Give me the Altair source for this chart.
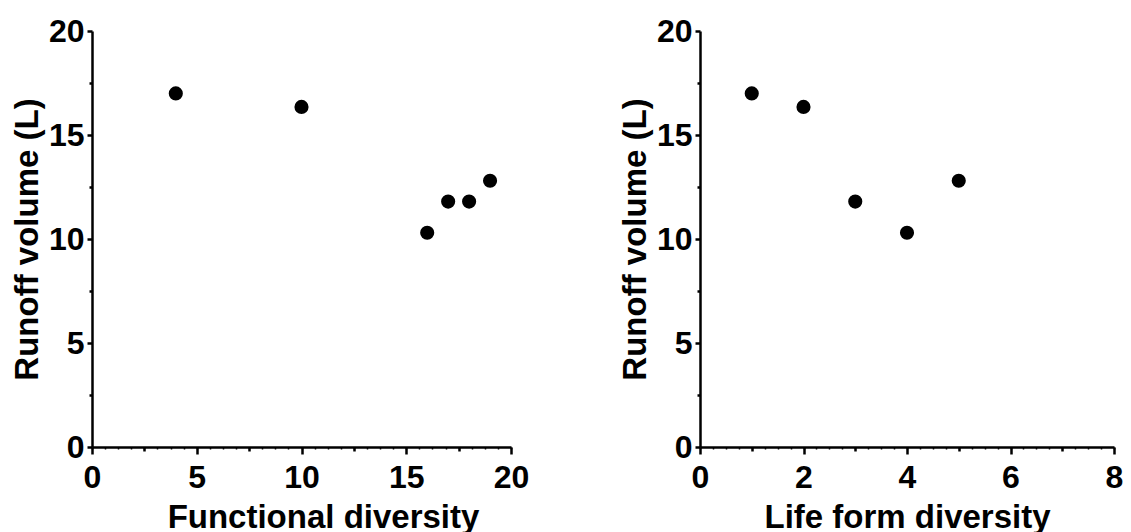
import altair as alt
import pandas as pd

# Data
func_diversity = [4, 10, 16, 17, 18, 19]
func_runoff = [17.0, 16.35, 10.3, 11.8, 11.8, 12.8]
life_diversity = [1, 2, 3, 4, 5]
life_runoff = [17.0, 16.35, 11.8, 10.3, 12.8]

# Axis tick values
y_major = [0, 5, 10, 15, 20]
y_mid = [2.5, 7.5, 12.5, 17.5]
left_x_major = [0, 5, 10, 15, 20]
left_x_mid = [2.5, 7.5, 12.5, 17.5]
left_x_minor = [i * 0.625 for i in range(33)]
right_x_major = [0, 2, 4, 6, 8]
right_x_mid = [1, 3, 5, 7]
right_x_minor = [i * 0.25 for i in range(33)]

FONT = "Liberation Sans"
H = 416


def panel(xs, ys, xmax, xmajor, xmid, xminor, xtitle, width, title_x):
    df = pd.DataFrame({"x": xs, "runoff": ys})
    base = alt.Chart(df)
    xscale = alt.Scale(domain=[0, xmax], nice=False, zero=True)
    yscale = alt.Scale(domain=[0, 20], nice=False)
    pts = base.mark_circle(size=200, color="black", opacity=1).encode(
        x=alt.X("x:Q", scale=xscale,
                axis=alt.Axis(values=xmajor, title=xtitle, orient="bottom",
                              tickSize=7, labelPadding=8, titlePadding=8,
                              titleX=title_x, titleAlign="center",
                              labelFlush=False, labelOverlap=False)),
        y=alt.Y("runoff:Q", scale=yscale,
                axis=alt.Axis(values=y_major, title="Runoff volume (L)",
                              orient="left", tickSize=5, labelPadding=3,
                              titlePadding=4, labelOverlap=False)),
    )
    mid = base.mark_circle(opacity=0).encode(
        x=alt.X("x:Q", scale=xscale,
                axis=alt.Axis(values=xmid, labels=False, domain=False, title="",
                              orient="bottom", tickSize=4)),
        y=alt.Y("runoff:Q", scale=yscale,
                axis=alt.Axis(values=y_mid, labels=False, domain=False, title="",
                              orient="left", tickSize=3)),
    )
    minor = base.mark_circle(opacity=0).encode(
        x=alt.X("x:Q", scale=xscale,
                axis=alt.Axis(values=xminor, labels=False, domain=False, title="",
                              orient="bottom", tickSize=2, tickWidth=1.5)),
        y=alt.Y("runoff:Q", scale=yscale, axis=None),
    )
    return (alt.layer(pts, mid, minor)
            .resolve_axis(x="independent", y="independent")
            .properties(width=width, height=H))


left = panel(func_diversity, func_runoff, 20, left_x_major, left_x_mid,
             left_x_minor, "Functional diversity", 419, 231)
right = panel(life_diversity, life_runoff, 8, right_x_major, right_x_mid,
              right_x_minor, "Life form diversity", 414, 207)

chart = (alt.hconcat(left, right, spacing=90)
         .properties(padding={"left": 3, "top": 7, "right": 0, "bottom": 0})
         .configure_view(stroke=None)
         .configure_axis(grid=False, domainColor="black", domainWidth=2.5,
                         tickColor="black", tickWidth=2.5,
                         labelFont=FONT, labelFontSize=32, labelFontWeight="bold",
                         labelColor="black", titleFont=FONT, titleFontSize=33,
                         titleFontWeight="bold", titleColor="black"))

chart.save("out.html", embed_options={"renderer": "svg", "actions": False})
